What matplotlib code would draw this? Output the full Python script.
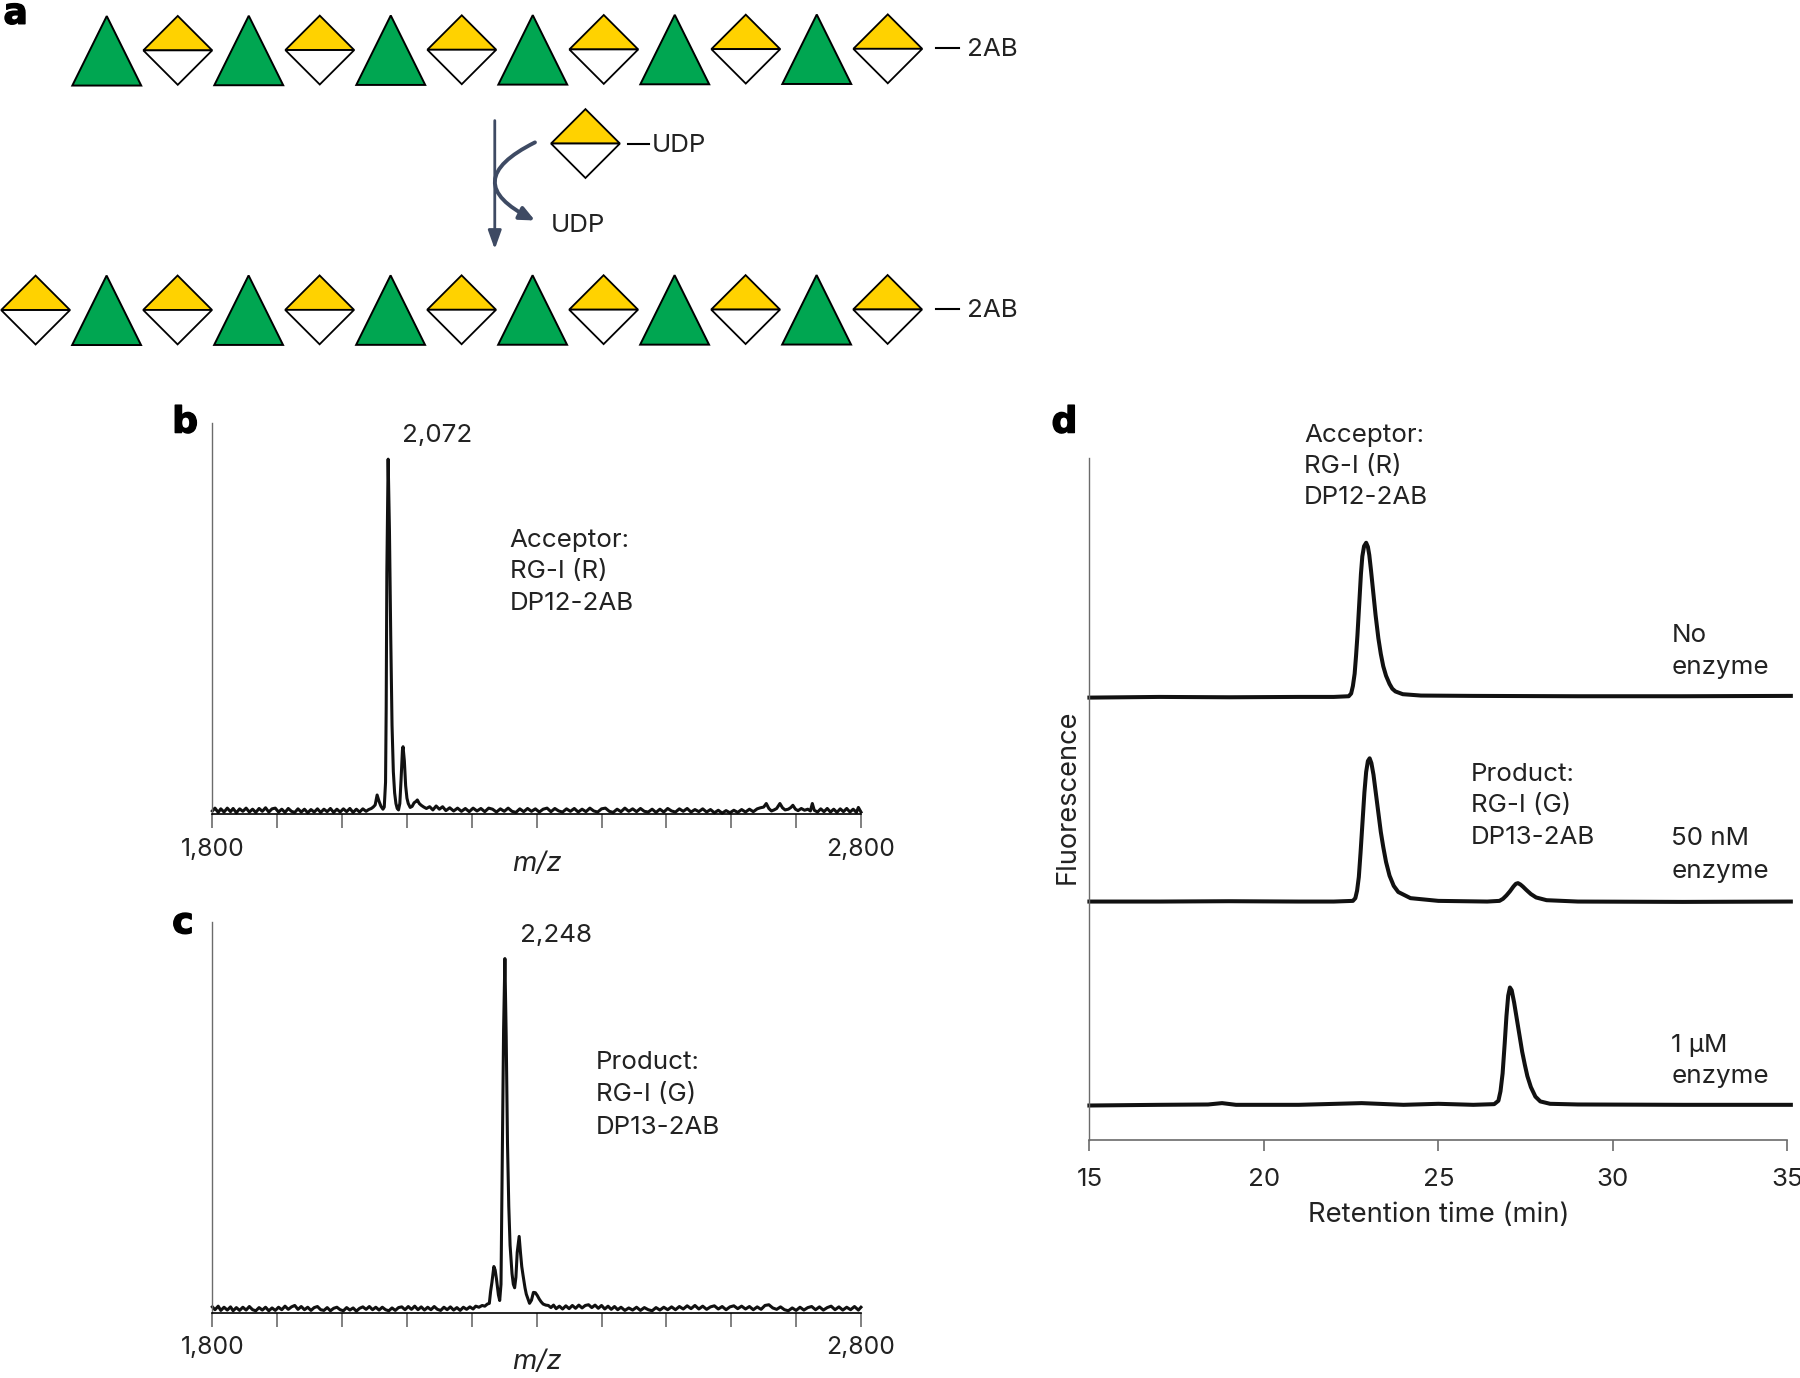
import matplotlib
matplotlib.use("Agg")
import numpy as np
import matplotlib.pyplot as plt
import matplotlib.patheffects as pe
from matplotlib.patches import Polygon, FancyArrowPatch

plt.rcParams['font.family'] = ['Inter', 'DejaVu Sans']

# MALDI spectrum, acceptor
mz_b = [1800,1804,1809,1813,1818,1823,1828,1832,1837,1842,1847,1852,1857,1862,1867,1872,1877,1882,1887,1892,
        1897,1902,1907,1912,1917,1922,1927,1932,1937,1942,1947,1952,1957,1962,1967,1972,1977,1982,1987,1992,
        1997,2002,2007,2012,2017,2022,2027,2032,2037,2041,2045,2048,2051,2054,2057,2060,2063,2065,2067,2068,
        2069,2071,2073,2075,2077,2079,2081,2083,2085,2087,2089,2091,2093,2094,2096,2098,2100,2102,2105,2108,
        2111,2114,2116,2119,2122,2126,2130,2135,2140,2145,2150,2155,2160,2166,2172,2178,2184,2190,2196,2202,
        2208,2214,2220,2226,2232,2238,2244,2250,2256,2262,2268,2274,2280,2286,2292,2298,2304,2310,2316,2322,
        2328,2334,2340,2346,2352,2358,2364,2370,2376,2382,2388,2394,2400,2406,2412,2418,2424,2430,2436,2442,
        2448,2454,2460,2466,2472,2478,2484,2490,2496,2502,2508,2514,2520,2526,2532,2538,2544,2550,2556,2562,
        2568,2574,2580,2586,2592,2598,2604,2610,2616,2622,2628,2634,2640,2645,2650,2654,2658,2662,2666,2670,
        2675,2679,2683,2688,2692,2695,2699,2703,2708,2713,2718,2722,2725,2728,2733,2738,2743,2748,2753,2758,
        2763,2768,2773,2778,2783,2788,2793,2796,2800]
int_b = [0.9,1.7,0.5,1.5,0.6,1.7,0.7,1.6,0.4,1.5,0.8,1.7,0.6,1.4,0.5,1.6,0.8,1.8,0.6,1.5,
         1.7,0.6,1.4,0.5,1.6,0.8,0.5,1.5,0.6,1.4,0.4,1.3,0.6,1.5,0.5,1.4,0.7,1.6,0.5,1.4,
         0.6,1.5,0.7,1.6,0.5,1.4,0.6,1.5,0.8,1.3,1.6,2.0,2.6,5.4,3.6,2.2,1.4,2.0,9.0,30.0,
         68.0,100.0,80.0,50.0,25.0,12.0,6.0,3.0,1.6,1.2,3.0,10.0,18.0,19.0,15.0,8.0,4.5,3.0,1.9,2.2,
         3.2,3.6,4.0,3.0,2.5,2.0,1.6,2.1,1.2,2.3,1.4,2.1,1.0,1.8,0.9,1.7,0.8,1.6,0.7,1.7,
         0.9,1.6,0.7,1.7,1.4,0.6,1.5,0.8,1.7,0.8,0.5,1.5,0.7,1.6,0.8,1.5,0.6,1.4,1.7,0.7,
         1.6,0.9,0.6,1.5,0.8,1.6,0.6,1.4,0.7,1.7,0.9,0.6,1.5,1.7,0.8,0.5,1.4,0.7,1.7,0.8,
         1.5,0.7,1.6,0.8,0.6,1.4,0.5,1.4,0.6,1.6,0.9,0.6,1.5,0.8,1.6,0.6,1.3,0.7,1.5,0.6,
         1.3,0.4,1.1,0.3,1.0,0.4,1.1,0.5,1.3,0.6,1.4,0.7,1.5,1.8,2.0,3.0,1.6,0.9,1.2,1.6,
         3.0,1.8,1.2,1.4,1.9,2.5,1.4,1.0,1.6,1.1,1.4,0.9,3.0,1.1,0.6,1.5,0.7,1.6,0.6,1.4,
         0.5,1.5,0.7,1.6,0.6,1.4,0.5,1.9,0.6]

# MALDI spectrum, product
mz_c = [1800,1804,1809,1813,1818,1823,1828,1832,1837,1842,1847,1852,1857,1862,1867,1872,1877,1882,1887,1892,
        1897,1902,1907,1912,1917,1922,1927,1932,1937,1942,1947,1952,1957,1962,1967,1972,1977,1982,1987,1992,
        1997,2002,2007,2012,2017,2022,2027,2032,2037,2042,2047,2052,2057,2062,2067,2072,2077,2082,2087,2092,
        2097,2102,2107,2112,2117,2122,2127,2132,2137,2142,2147,2152,2157,2162,2167,2172,2177,2182,2187,2192,
        2197,2202,2206,2211,2216,2220,2224,2227,2229,2231,2234,2236,2238,2241,2243,2245,2247,2249,2251,2253,
        2255,2257,2259,2262,2264,2266,2268,2270,2273,2275,2277,2279,2282,2284,2287,2289,2292,2295,2298,2301,
        2304,2307,2310,2314,2318,2322,2326,2330,2335,2340,2345,2350,2355,2360,2365,2370,2375,2380,2385,2390,
        2395,2400,2405,2410,2415,2420,2425,2430,2436,2442,2448,2454,2460,2466,2472,2478,2484,2490,2496,2502,
        2508,2514,2520,2526,2532,2538,2544,2550,2556,2562,2568,2574,2580,2586,2592,2598,2604,2610,2616,2622,
        2628,2634,2640,2646,2652,2658,2664,2670,2676,2682,2688,2694,2700,2706,2712,2718,2724,2730,2736,2742,
        2748,2754,2760,2766,2772,2778,2784,2790,2796,2800]
int_c = [1.6,0.8,1.8,0.6,1.5,0.7,1.6,0.5,1.4,0.6,1.5,0.7,1.7,0.8,0.5,1.4,0.7,1.5,0.5,1.3,
         0.6,1.5,0.8,1.8,0.9,1.6,2.0,0.9,1.7,0.8,1.5,0.6,1.4,1.7,0.8,0.6,1.4,0.5,1.2,1.5,
         0.8,0.5,1.4,0.7,1.3,0.4,1.2,1.6,0.9,1.7,0.8,1.5,0.7,1.5,0.8,0.5,1.3,0.6,1.4,1.6,
         0.8,1.7,0.9,1.8,0.8,1.6,0.7,1.5,0.8,1.7,0.9,0.6,1.5,0.8,1.6,0.7,1.4,0.6,1.5,0.9,
         1.6,1.0,1.8,1.5,2.0,1.8,2.4,2.6,6.0,8.5,13.0,12.0,9.5,5.0,3.4,8.0,45.0,80.0,100.0,78.0,
         48.0,30.0,19.0,11.0,8.0,7.0,10.0,17.0,21.5,17.0,13.0,10.5,7.0,5.2,3.6,2.6,3.5,5.7,5.6,4.8,
         3.8,3.0,2.4,2.1,2.0,1.4,2.1,1.1,1.8,1.0,1.9,1.1,2.0,1.2,2.1,1.3,2.0,2.2,1.4,2.1,
         1.2,2.0,1.0,1.8,0.9,1.7,0.8,1.5,0.6,1.3,0.7,1.5,0.6,1.4,0.8,0.5,1.4,0.7,1.5,0.8,
         1.6,0.8,1.7,1.0,1.9,1.1,2.0,1.0,1.8,0.9,1.6,1.9,1.0,1.7,0.8,1.6,1.9,1.1,1.8,1.0,
         1.7,0.8,1.6,0.9,2.0,2.2,1.3,0.9,1.6,0.8,0.5,1.3,0.6,1.5,0.7,1.4,1.7,0.8,1.6,0.7,
         1.4,1.8,0.8,1.6,0.7,1.5,0.8,1.7,0.7,1.5]

# HPLC traces, height above each baseline
t_none = [15,17,19,21,22,22.43,22.5,22.55,22.6,22.64,22.68,22.73,22.78,22.82,22.87,22.93,22.98,23.02,23.07,23.13,
          23.2,23.28,23.35,23.42,23.5,23.6,23.68,23.77,23.98,24.5,26,29,32,35.1]
h_none = [-0.1,0,-0.05,0,0,0.1,0.5,1.6,3.4,6.0,9.0,13.5,18.0,20.6,22.1,22.6,22.0,20.8,18.5,15.5,
          12.0,8.6,6.3,4.5,3.1,1.9,1.2,0.8,0.4,0.2,0.15,0.1,0.1,0.15]
t_50nm = [15,17,19,21,22,22.55,22.62,22.67,22.72,22.77,22.83,22.88,22.93,22.98,23.03,23.08,23.14,23.2,23.28,23.35,
          23.42,23.5,23.6,23.72,23.85,24.2,25,26.4,26.75,26.85,26.95,27.05,27.15,27.22,27.28,27.35,27.42,27.52,27.65,27.8,
          28.1,29,32,35.1]
h_50nm = [0,0,0.05,0,0,0.1,0.5,1.6,3.6,7.2,12.0,16.0,19.0,20.6,21.0,20.3,18.6,16.2,13.0,10.2,
          8.0,5.8,3.8,2.3,1.4,0.5,0.1,0,0.1,0.4,0.9,1.5,2.2,2.6,2.7,2.5,2.2,1.7,1.1,0.6,
          0.2,0,-0.05,0]
t_1um = [15,17,18.4,18.8,19.2,21,22.8,24,25,26,26.6,26.72,26.78,26.84,26.9,26.95,27.0,27.05,27.1,27.17,
         27.25,27.33,27.4,27.48,27.55,27.65,27.78,27.92,28.2,29,32,35.1]
h_1um = [-0.1,0,0.05,0.25,0,0,0.25,0,0.15,0,0.1,0.6,2.0,4.6,9.0,13.0,16.0,17.2,16.8,15.0,
         12.5,10.0,7.8,5.8,4.2,2.6,1.2,0.5,0.15,0.05,0,0]
base_none, base_50nm, base_1um = 65.0, 35.0, 5.2

xticks_ms = [1800,1900,2000,2100,2200,2300,2400,2500,2600,2700,2800]
xticks_lc = [15,20,25,30,35]

top_row = "TDTDTDTDTDTD"
bottom_row = "DTDTDTDTDTDTD"

GREEN, YELLOW, NAVY = '#00A651', '#FFD200', '#3E4A63'
GREY = '#6b6b6b'
FS = 18.7

fig = plt.figure(figsize=(18, 13.78), dpi=100)
W, H = 1568.0, 1200.0


def make_axes(left, right, top, bottom):
    # positions read in the 1568x1200 view
    return fig.add_axes([left / W, 1 - bottom / H, (right - left) / W, (bottom - top) / H])


def style_axis(ax, ticks, labels, pad, size):
    ax.spines[['top', 'right']].set_visible(False)
    ax.spines['left'].set_color(GREY)
    ax.spines['left'].set_linewidth(1.0)
    ax.spines['bottom'].set_linewidth(1.2)
    ax.set_xticks(ticks)
    ax.set_xticklabels(labels, fontsize=size, color='#222222')
    ax.set_yticks([])
    ax.tick_params(axis='x', length=10, width=1.2, color=GREY, pad=pad)
    ax.patch.set_alpha(0)


def spectrum(ax, mz, intensity):
    ax.plot(mz, intensity, color='#111111', lw=2.2, solid_joinstyle='round', clip_on=False)
    ax.set_xlim(1800, 2800)
    ax.set_ylim(0, 110.3)
    labels = ['1,800'] + [''] * 9 + ['2,800']
    style_axis(ax, xticks_ms, labels, 7, 17.8)
    ax.set_xlabel('m/z', fontsize=FS + 1.3, style='italic', labelpad=-7, color='#222222')


ax_b = make_axes(185, 750, 368, 709)
spectrum(ax_b, mz_b, int_b)
ax_c = make_axes(185, 750, 803, 1143)
spectrum(ax_c, mz_c, int_c)

ax_d = make_axes(949, 1557, 399, 993)
for t, h, base in [(t_none, h_none, base_none), (t_50nm, h_50nm, base_50nm), (t_1um, h_1um, base_1um)]:
    ax_d.plot(t, np.array(h) + base, color='#111111', lw=2.9, clip_on=False, solid_joinstyle='round')
ax_d.set_xlim(15, 35)
ax_d.set_ylim(0, 100)
style_axis(ax_d, xticks_lc, [str(v) for v in xticks_lc], 12, FS)
ax_d.tick_params(axis='x', length=8)
ax_d.spines['bottom'].set_color(GREY)
ax_d.set_xlabel('Retention time (min)', fontsize=19.8, labelpad=8, color='#222222')
ax_d.set_ylabel('Fluorescence', fontsize=19.6, color='#222222')
ax_d.yaxis.set_label_coords(-0.012, 0.504)

# overlay in view coordinates for the scheme and annotations
ov = fig.add_axes([0, 0, 1, 1], zorder=5)
ov.set_xlim(0, W)
ov.set_ylim(H, 0)
ov.axis('off')


def triangle(x, top, bottom, half=30):
    ov.add_patch(Polygon([(x, top), (x - half, bottom), (x + half, bottom)], closed=True,
                         facecolor=GREEN, edgecolor='black', lw=1.4, joinstyle='miter'))


def diamond(x, mid, half=30):
    ov.add_patch(Polygon([(x - half, mid), (x, mid - half), (x + half, mid)], closed=True,
                         facecolor=YELLOW, edgecolor='black', lw=1.3, joinstyle='miter'))
    ov.add_patch(Polygon([(x - half, mid), (x, mid + half), (x + half, mid)], closed=True,
                         facecolor='white', edgecolor='black', lw=1.3, joinstyle='miter'))


def chain(kinds, first_x, mid_left, mid_right):
    # each row leans up a little towards the right
    n = len(kinds)
    for i, kind in enumerate(kinds):
        x = first_x + i * 61.85
        mid = mid_left + (mid_right - mid_left) * i / (n - 1)
        if kind == 'T':
            triangle(x, mid - 30, mid + 30.5)
        else:
            diamond(x, mid)


chain(top_row, 93, 44, 42.5)
chain(bottom_row, 31, 270, 269.5)
diamond(510, 125)


def txt(x, y, s, **kw):
    ov.text(x, y + 1.5, s, fontsize=kw.pop('fontsize', FS), ha='left', va='center', color='#222222', **kw)


for y in [42, 269]:
    ov.plot([815, 835], [y, y], color='black', lw=1.5)
    txt(842, y, '2AB')
ov.plot([547, 565], [125, 125], color='black', lw=1.5)
txt(568, 125, 'UDP')
txt(480, 195, 'UDP')

ov.add_patch(FancyArrowPatch((431, 105), (431, 217), arrowstyle='-|>,head_length=0.7,head_width=0.25',
                             mutation_scale=16, color=NAVY, lw=2.0, shrinkA=0, shrinkB=0))
ov.add_patch(FancyArrowPatch((466, 124), (466, 192), connectionstyle='arc3,rad=1.0',
                             arrowstyle='-|>,head_length=0.55,head_width=0.25', mutation_scale=16,
                             color=NAVY, lw=2.8, shrinkA=0, shrinkB=0))

for x, y, lab in [(3, 12, 'a'), (150, 368, 'b'), (150, 804, 'c'), (916, 368, 'd')]:
    t = ov.text(x, y, lab, fontsize=26, fontweight='bold', family='DejaVu Sans',
                ha='left', va='center', color='black')
    t.set_path_effects([pe.withStroke(linewidth=1.0, foreground='black')])

txt(350, 378, '2,072')
txt(453, 813, '2,248')
for x, ys, lines in [(444, [469, 496, 524], ['Acceptor:', 'RG-I (R)', 'DP12-2AB']),
                     (519, [924, 952, 980], ['Product:', 'RG-I (G)', 'DP13-2AB']),
                     (1136, [378, 405, 432], ['Acceptor:', 'RG-I (R)', 'DP12-2AB']),
                     (1281, [673, 700, 728], ['Product:', 'RG-I (G)', 'DP13-2AB']),
                     (1456, [552, 580], ['No', 'enzyme']),
                     (1456, [729, 757], ['50 nM', 'enzyme']),
                     (1456, [909, 936], ['1 µM', 'enzyme'])]:
    for y, line in zip(ys, lines):
        txt(x, y, line)

fig.savefig('out.png', dpi=100)
